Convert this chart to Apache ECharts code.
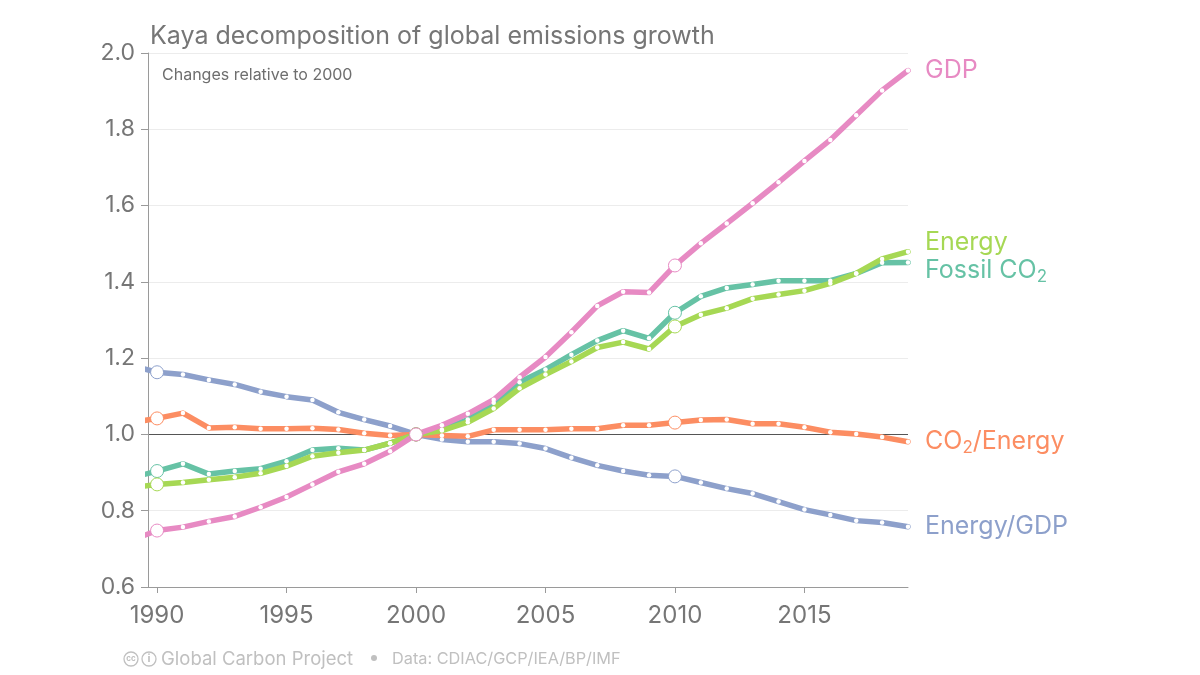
<!DOCTYPE html>
<html>
<head>
<meta charset="utf-8">
<script src="https://cdn.jsdelivr.net/npm/echarts@6/dist/echarts.min.js"></script>
<style>
  html, body { margin: 0; padding: 0; background: #fff; }
  #chart { width: 1200px; height: 675px; }
</style>
</head>
<body>
<div id="chart"></div>
<script>
// Kaya decomposition – all series relative to 2000 (1989 point is clipped by the axis)
const years = [1989, 1990, 1991, 1992, 1993, 1994, 1995, 1996, 1997, 1998, 1999,
  2000, 2001, 2002, 2003, 2004, 2005, 2006, 2007, 2008, 2009,
  2010, 2011, 2012, 2013, 2014, 2015, 2016, 2017, 2018, 2019];

const gdp = [0.722, 0.748, 0.757, 0.772, 0.785, 0.809, 0.836, 0.869, 0.902, 0.923, 0.956,
  1.000, 1.024, 1.054, 1.091, 1.150, 1.203, 1.268, 1.337, 1.374, 1.372,
  1.443, 1.501, 1.553, 1.606, 1.661, 1.717, 1.772, 1.837, 1.902, 1.954];
const energy = [0.860, 0.869, 0.874, 0.881, 0.888, 0.898, 0.917, 0.943, 0.952, 0.959, 0.977,
  1.000, 1.010, 1.032, 1.068, 1.121, 1.157, 1.191, 1.228, 1.242, 1.224,
  1.283, 1.314, 1.331, 1.356, 1.367, 1.377, 1.396, 1.422, 1.460, 1.479];
const fossilCO2 = [0.886, 0.904, 0.923, 0.896, 0.904, 0.910, 0.930, 0.959, 0.964, 0.959, 0.977,
  1.000, 1.012, 1.039, 1.083, 1.137, 1.170, 1.209, 1.246, 1.272, 1.252,
  1.319, 1.362, 1.384, 1.393, 1.403, 1.403, 1.403, 1.422, 1.450, 1.451];
const co2PerEnergy = [1.031, 1.042, 1.056, 1.017, 1.019, 1.015, 1.015, 1.016, 1.013, 1.003, 0.997,
  1.000, 0.997, 0.995, 1.012, 1.012, 1.012, 1.015, 1.015, 1.024, 1.024,
  1.031, 1.038, 1.039, 1.028, 1.028, 1.019, 1.006, 1.001, 0.993, 0.981];
const energyPerGdp = [1.181, 1.163, 1.157, 1.143, 1.131, 1.112, 1.099, 1.090, 1.058, 1.039, 1.022,
  1.000, 0.987, 0.981, 0.981, 0.976, 0.963, 0.939, 0.919, 0.904, 0.893,
  0.890, 0.874, 0.858, 0.845, 0.824, 0.803, 0.789, 0.774, 0.769, 0.758];

const xTicks = [1990, 1995, 2000, 2005, 2010, 2015];
const bigMarkerYears = [1990, 2000, 2010];

const FONT = 'Inter, "Liberation Sans", Arial, sans-serif';
const GREY = '#767676';
const FOOT = '#c0c0c0';

function buildData(vals, color) {
  return years.map((y, i) => {
    const big = bigMarkerYears.includes(y);
    return {
      value: [y, vals[i]],
      symbolSize: big ? 13 : 4.5,
      itemStyle: { color: '#fff', borderColor: color, borderWidth: big ? 1 : 0 },
    };
  });
}

const TXT = { fontSize: 25, fontFamily: FONT };
function series(name, vals, color, label, offset) {
  return {
    name, type: 'line', data: buildData(vals, color), clip: true,
    symbol: 'circle', showAllSymbol: true,
    lineStyle: { color, width: 5.5, join: 'round', cap: 'round' },
    itemStyle: { color: '#fff' },
    emphasis: { disabled: true },
    endLabel: {
      show: true, distance: 17, offset: offset,
      formatter: label,
      rich: {
        t: { ...TXT, color },
        s: { fontSize: 17, fontFamily: FONT, color, padding: [12, 0, 0, 0] },
      },
    },
  };
}

const chart = echarts.init(document.getElementById('chart'), null, { renderer: 'canvas' });
chart.setOption({
  animation: false,
  title: [
    { text: 'Kaya decomposition of global emissions growth', left: 145, top: 19,
      textStyle: { fontSize: 25, fontWeight: 'normal', color: GREY, fontFamily: FONT } },
    { text: 'Changes relative to 2000', left: 157, top: 62,
      textStyle: { fontSize: 16, fontWeight: 'normal', color: '#6e6e6e', fontFamily: FONT } },
  ],
  grid: { left: 148, right: 292, top: 53, bottom: 88, containLabel: false },
  xAxis: {
    type: 'value', min: 1989.65, max: 2019,
    axisLine: { lineStyle: { color: '#9a9a9a', width: 1 } },
    axisTick: { show: true, customValues: xTicks, length: 6, inside: false, lineStyle: { color: '#9a9a9a' } },
    axisLabel: { customValues: xTicks, color: GREY, fontSize: 24, fontFamily: FONT, margin: 17, formatter: (v) => String(v) },
    splitLine: { show: false },
  },
  yAxis: {
    type: 'value', min: 0.6, max: 2.0, interval: 0.2,
    axisLine: { show: true, lineStyle: { color: '#9a9a9a', width: 1 } },
    axisTick: { show: true, length: 7, lineStyle: { color: '#9a9a9a' } },
    axisLabel: { color: GREY, fontSize: 23, fontFamily: FONT, margin: 13, formatter: (v) => v.toFixed(1) },
    splitLine: { show: true, lineStyle: { color: ['#ececec', '#ececec', '#555555', '#ececec', '#ececec', '#ececec', '#ececec', '#ececec'], width: 1 } },
  },
  series: [
    series('Energy/GDP', energyPerGdp, '#8da0cb', '{t|Energy/GDP}', [0, 0]),
    series('CO2/Energy', co2PerEnergy, '#fc8d62', '{t|CO}{s|2}{t|/Energy}', [0, 0]),
    series('Fossil CO2', fossilCO2, '#66c2a5', '{t|Fossil CO}{s|2}', [0, 8]),
    series('Energy', energy, '#a6d854', '{t|Energy}', [0, -9]),
    series('GDP', gdp, '#e78ac3', '{t|GDP}', [0, 0]),
  ],
  graphic: [
    { type: 'circle', shape: { cx: 131, cy: 659, r: 7 }, style: { fill: 'none', stroke: FOOT, lineWidth: 1.3 } },
    { type: 'text', x: 131, y: 659, style: { text: 'cc', fontSize: 8, fontWeight: 'bold', fill: FOOT, align: 'center', verticalAlign: 'middle', fontFamily: FONT } },
    { type: 'circle', shape: { cx: 149, cy: 659, r: 7 }, style: { fill: 'none', stroke: FOOT, lineWidth: 1.3 } },
    { type: 'text', x: 149, y: 659, style: { text: 'i', fontSize: 11, fontWeight: 'bold', fill: FOOT, align: 'center', verticalAlign: 'middle', fontFamily: FONT } },
    { type: 'text', x: 161, y: 659, style: { text: 'Global Carbon Project', fontSize: 18.5, fill: FOOT, verticalAlign: 'middle', fontFamily: FONT } },
    { type: 'circle', shape: { cx: 374, cy: 658, r: 3 }, style: { fill: FOOT } },
    { type: 'text', x: 392, y: 659, style: { text: 'Data: CDIAC/GCP/IEA/BP/IMF', fontSize: 16.3, fill: FOOT, verticalAlign: 'middle', fontFamily: FONT } },
  ],
});
</script>
</body>
</html>
